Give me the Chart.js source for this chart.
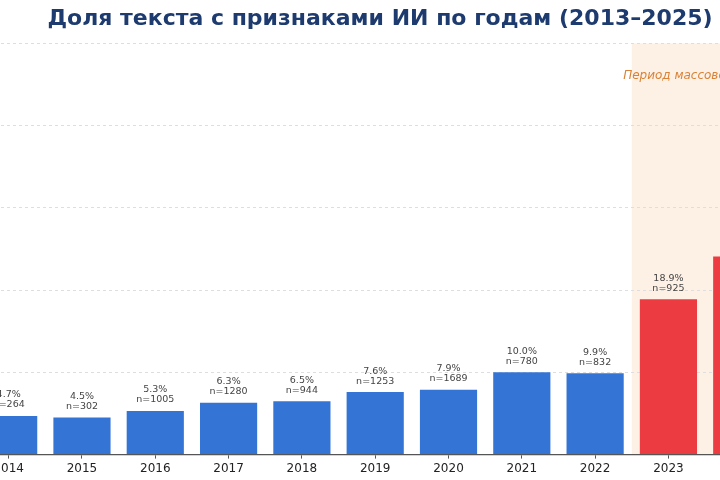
<!DOCTYPE html>
<html>
<head>
<meta charset="utf-8">
<script src="https://cdn.jsdelivr.net/npm/chart.js@4"></script>
<style>
  html, body { margin: 0; padding: 0; width: 720px; height: 480px; overflow: hidden; background: #fff; }
  #wrap { position: absolute; left: -160px; top: 0; width: 1080px; height: 480px; }
</style>
</head>
<body>
<div id="wrap"><canvas id="c" width="1080" height="480"></canvas></div>
<script>
const years = ['2013','2014','2015','2016','2017','2018','2019','2020','2021','2022','2023','2024','2025'];
const shares = [null, 4.7, 4.5, 5.3, 6.3, 6.5, 7.6, 7.9, 10.0, 9.9, 18.9, 24.1, null];
const counts = [null, 264, 302, 1005, 1280, 944, 1253, 1689, 780, 832, 925, null, null];
const aiPeriodStart = '2023';
const yTicks = [0, 10, 20, 30, 40, 50];
const titleText = 'Доля текста с признаками ИИ по годам (2013–2025)';
const spanText = 'Период массового использования ИИ';

const BLUE = '#3474d4', RED = '#ec3c41';
const startIdx = years.indexOf(aiPeriodStart);
const colors = years.map((y, i) => i >= startIdx ? RED : BLUE);

const shadePlugin = {
  id: 'shade',
  beforeDraw(chart) {
    const x = chart.scales.x, a = chart.chartArea, ctx = chart.ctx;
    const half = (x.getPixelForValue(1) - x.getPixelForValue(0)) / 2;
    const x0 = x.getPixelForValue(startIdx) - half;
    const x1 = x.getPixelForValue(years.length - 1) + half;
    ctx.save();
    ctx.fillStyle = '#fdf0e5';
    ctx.fillRect(x0, a.top, x1 - x0, a.bottom - a.top);
    ctx.fillStyle = '#d98236';
    ctx.font = 'italic 12px "DejaVu Sans"';
    ctx.textAlign = 'center';
    ctx.textBaseline = 'middle';
    const mid = (x0 + x1) / 2;
    ctx.fillText(spanText, mid, chart.scales.y.getPixelForValue(46));
    ctx.restore();
  }
};

const labelPlugin = {
  id: 'barLabels',
  afterDatasetsDraw(chart) {
    const ctx = chart.ctx;
    const meta = chart.getDatasetMeta(0);
    ctx.save();
    ctx.fillStyle = '#444';
    ctx.font = '9.5px "DejaVu Sans"';
    ctx.textAlign = 'center';
    ctx.textBaseline = 'middle';
    meta.data.forEach((bar, i) => {
      if (shares[i] == null || counts[i] == null) return;
      ctx.fillText(shares[i].toFixed(1) + '%', bar.x, bar.y - 21);
      ctx.fillText('n=' + counts[i], bar.x, bar.y - 11);
    });
    ctx.restore();
  }
};

new Chart(document.getElementById('c'), {
  type: 'bar',
  data: {
    labels: years,
    datasets: [{
      data: shares,
      backgroundColor: colors,
      borderWidth: 0,
      categoryPercentage: 1.0,
      barPercentage: 0.78
    }]
  },
  options: {
    responsive: false,
    animation: false,
    layout: { padding: { left: 0, right: 0, top: 0, bottom: 1 } },
    plugins: {
      legend: { display: false },
      tooltip: { enabled: false },
      title: {
        display: true,
        text: titleText,
        color: '#1d3b6e',
        font: { family: '"DejaVu Sans"', size: 22, weight: 'bold' },
        padding: { top: 6, bottom: 11 }
      }
    },
    scales: {
      x: {
        grid: { display: true, offset: false, drawOnChartArea: false, drawTicks: true, tickLength: 4, color: '#555' },
        border: { display: true, color: '#555', width: 1.3 },
        ticks: { color: '#222', font: { family: '"DejaVu Sans"', size: 12 }, padding: 3, maxRotation: 0 }
      },
      y: {
        min: 0, max: 50,
        afterBuildTicks(scale) { scale.ticks = yTicks.map(v => ({ value: v })); },
        afterFit(scale) { scale.width = 58.7; },
        grid: { color: '#dedede', lineWidth: 1, drawTicks: false },
        border: { display: false, dash: [3, 3] },
        ticks: { display: false }
      },
      yRight: {
        position: 'right',
        min: 0, max: 50,
        afterFit(scale) { scale.width = 68.3; },
        grid: { display: false, drawTicks: false },
        border: { display: false },
        ticks: { display: false }
      }
    }
  },
  plugins: [shadePlugin, labelPlugin]
});
</script>
</body>
</html>
